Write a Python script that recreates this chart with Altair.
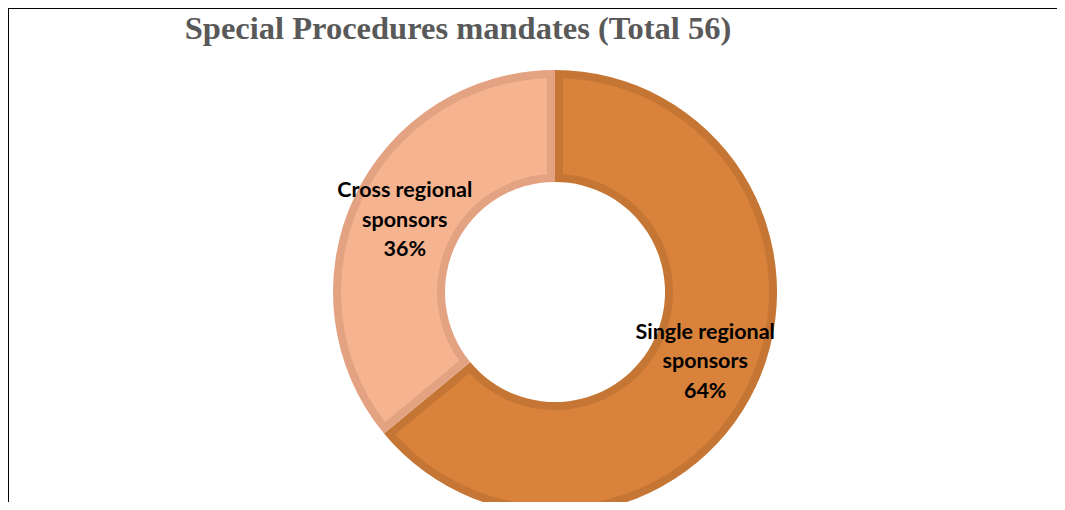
import altair as alt
import pandas as pd

categories = ["Single regional sponsors", "Cross regional sponsors"]
values = [64, 36]
label_lines = ["Single regional\nsponsors\n64%", "Cross regional\nsponsors\n36%"]
fills = ["#D9823C", "#F5B38F"]
borders = ["#C57634", "#E3A383"]
title_text = "Special Procedures mandates (Total 56)"

df = pd.DataFrame({
    "category": categories,
    "value": values,
    "label": label_lines,
    "order": list(range(len(categories))),
})

W, H = 1049, 494
CX, CY = 547, 284

color_fill = alt.Color("category:N", scale=alt.Scale(domain=categories, range=fills), legend=None)
color_border = alt.Color("category:N", scale=alt.Scale(domain=categories, range=borders), legend=None)

base = alt.Chart(df).encode(
    theta=alt.Theta("value:Q", stack=True),
    order=alt.Order("order:Q"),
    x=alt.value(CX),
    y=alt.value(CY),
)

outer = base.mark_arc(outerRadius=222, innerRadius=110).encode(color=color_border)
inner = base.mark_arc(outerRadius=214, innerRadius=118, padAngle=0.066).encode(color=color_fill)
labels = base.mark_text(
    radius=166, font="Lato", fontWeight="bold", fontSize=21.5, color="black",
    lineBreak="\n", lineHeight=29.5, align="center", baseline="middle", dy=-30,
).encode(text="label:N")

title = alt.Chart(pd.DataFrame({"t": [title_text]})).mark_text(
    font="Liberation Serif", fontWeight="bold", fontSize=32.5, color="#595959",
    align="center", baseline="alphabetic",
).encode(text="t:N", x=alt.value(450), y=alt.value(31))

frame_top = alt.Chart(pd.DataFrame({"a": [0]})).mark_rule(color="black", strokeWidth=2).encode(
    x=alt.value(0), x2=alt.value(W), y=alt.value(0))
frame_left = alt.Chart(pd.DataFrame({"a": [0]})).mark_rule(color="black", strokeWidth=2).encode(
    x=alt.value(0), y=alt.value(0), y2=alt.value(H))

chart = alt.layer(outer, inner, labels, title, frame_top, frame_left).resolve_scale(
    color="independent"
).properties(
    width=W, height=H, autosize=alt.AutoSizeParams(type="none"), padding=0,
).configure_view(stroke=None)

chart.save("out.html", embed_options={"renderer": "svg", "actions": False})
